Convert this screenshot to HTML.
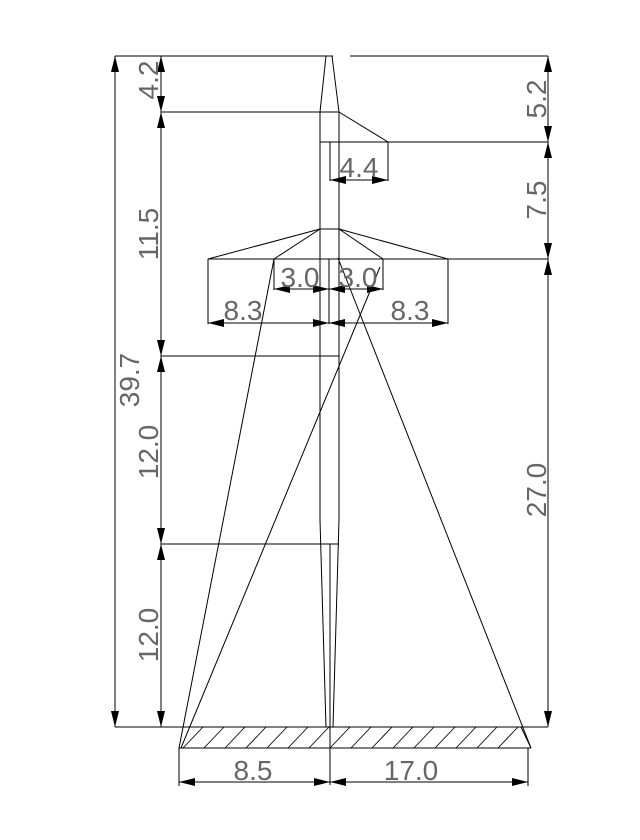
<!DOCTYPE html>
<html><head><meta charset="utf-8"><style>
html,body{margin:0;padding:0;background:#fff}
svg{display:block}
text{font-family:"Liberation Sans",sans-serif;font-size:28px;fill:#666;font-weight:normal}
</style></head><body>
<svg width="640" height="840" viewBox="0 0 640 840" xmlns="http://www.w3.org/2000/svg">
<defs>
<marker id="a" viewBox="0 0 16 8" refX="16" refY="4" markerWidth="16" markerHeight="8" markerUnits="userSpaceOnUse" orient="auto-start-reverse">
<path d="M0,0 L16,4 L0,8 z" fill="#000"/>
</marker>
</defs>
<g stroke="#000" stroke-width="1" fill="none">
<line x1="115" y1="56" x2="333" y2="56"/>
<line x1="350" y1="56" x2="548" y2="56"/>
<line x1="115" y1="727" x2="548" y2="727"/>
<line x1="115" y1="56" x2="115" y2="727" marker-start="url(#a)" marker-end="url(#a)"/>
<line x1="161" y1="56" x2="161" y2="112" marker-start="url(#a)" marker-end="url(#a)"/>
<line x1="161" y1="112" x2="161" y2="356" marker-start="url(#a)" marker-end="url(#a)"/>
<line x1="161" y1="356" x2="161" y2="544" marker-start="url(#a)" marker-end="url(#a)"/>
<line x1="161" y1="544" x2="161" y2="727" marker-start="url(#a)" marker-end="url(#a)"/>
<line x1="161" y1="112" x2="339" y2="112"/>
<line x1="161" y1="356" x2="339" y2="356"/>
<line x1="161" y1="544" x2="339" y2="544"/>
<line x1="548" y1="56" x2="548" y2="142" marker-start="url(#a)" marker-end="url(#a)"/>
<line x1="548" y1="142" x2="548" y2="259" marker-start="url(#a)" marker-end="url(#a)"/>
<line x1="548" y1="259" x2="548" y2="727" marker-start="url(#a)" marker-end="url(#a)"/>
<line x1="320" y1="142" x2="548" y2="142"/>
<line x1="208" y1="259" x2="548" y2="259"/>
<polyline points="326,56 320,112 320,520 326,727"/>
<polyline points="332,56 339,112 339,520 333,727"/>
<line x1="330" y1="544" x2="330" y2="785"/>
<line x1="339" y1="112" x2="388" y2="142"/>
<line x1="330" y1="142" x2="330" y2="181"/>
<line x1="388" y1="142" x2="388" y2="181"/>
<line x1="330" y1="180" x2="388" y2="180" marker-start="url(#a)" marker-end="url(#a)"/>
<line x1="320" y1="229" x2="339" y2="229"/>
<line x1="320" y1="229" x2="208" y2="259"/>
<line x1="320" y1="229" x2="274" y2="259"/>
<line x1="339" y1="229" x2="448" y2="259"/>
<line x1="339" y1="229" x2="383" y2="259"/>
<line x1="208" y1="259" x2="208" y2="324"/>
<line x1="448" y1="259" x2="448" y2="324"/>
<line x1="274" y1="259" x2="274" y2="290"/>
<line x1="383" y1="259" x2="383" y2="290"/>
<line x1="329" y1="259" x2="329" y2="324"/>
<line x1="274" y1="289" x2="329" y2="289" marker-start="url(#a)" marker-end="url(#a)"/>
<line x1="329" y1="289" x2="383" y2="289" marker-start="url(#a)" marker-end="url(#a)"/>
<line x1="208" y1="323" x2="329" y2="323" marker-start="url(#a)" marker-end="url(#a)"/>
<line x1="329" y1="323" x2="448" y2="323" marker-start="url(#a)" marker-end="url(#a)"/>
<line x1="274" y1="259" x2="179" y2="748"/>
<line x1="380" y1="267" x2="181" y2="748"/>
<line x1="338" y1="258" x2="531" y2="748"/>
<line x1="179" y1="748" x2="531" y2="748"/>
<line x1="521" y1="727" x2="531" y2="748"/>
<g stroke-width="0.9">
<line x1="183" y1="748" x2="203" y2="727"/>
<line x1="204" y1="748" x2="224" y2="727"/>
<line x1="225" y1="748" x2="245" y2="727"/>
<line x1="246" y1="748" x2="266" y2="727"/>
<line x1="267" y1="748" x2="287" y2="727"/>
<line x1="288" y1="748" x2="308" y2="727"/>
<line x1="309" y1="748" x2="329" y2="727"/>
<line x1="330" y1="748" x2="350" y2="727"/>
<line x1="351" y1="748" x2="371" y2="727"/>
<line x1="372" y1="748" x2="392" y2="727"/>
<line x1="393" y1="748" x2="413" y2="727"/>
<line x1="414" y1="748" x2="434" y2="727"/>
<line x1="435" y1="748" x2="455" y2="727"/>
<line x1="456" y1="748" x2="476" y2="727"/>
<line x1="477" y1="748" x2="497" y2="727"/>
<line x1="498" y1="748" x2="518" y2="727"/>
</g>
<line x1="179" y1="748" x2="179" y2="786"/>
<line x1="528" y1="748" x2="528" y2="786"/>
<line x1="179" y1="782" x2="330" y2="782" marker-start="url(#a)" marker-end="url(#a)"/>
<line x1="330" y1="782" x2="528" y2="782" marker-start="url(#a)" marker-end="url(#a)"/>
</g>
<g text-anchor="middle">
<text x="359" y="177">4.4</text>
<text x="300" y="287">3.0</text>
<text x="358" y="287">3.0</text>
<text x="243" y="320">8.3</text>
<text x="410" y="320">8.3</text>
<text x="253" y="780">8.5</text>
<text x="411" y="780">17.0</text>
<text transform="translate(158,80) rotate(-90)">4.2</text>
<text transform="translate(158,234) rotate(-90)">11.5</text>
<text transform="translate(158,452) rotate(-90)">12.0</text>
<text transform="translate(158,635) rotate(-90)">12.0</text>
<text transform="translate(139,380) rotate(-90)">39.7</text>
<text transform="translate(546,99) rotate(-90)">5.2</text>
<text transform="translate(546,200) rotate(-90)">7.5</text>
<text transform="translate(546,490) rotate(-90)">27.0</text>
</g>
</svg>
</body></html>
